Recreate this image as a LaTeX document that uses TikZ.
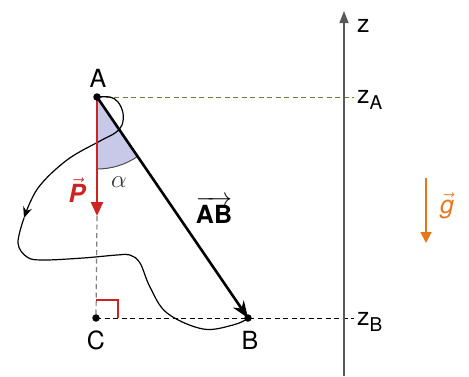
\documentclass[tikz,border=0pt]{standalone}
\usepackage{fontspec}
\setmainfont{TeX Gyre Heros}
\usetikzlibrary{arrows.meta}
\definecolor{pred}{RGB}{205,35,35}
\definecolor{gor}{RGB}{232,118,28}
\definecolor{sectorcol}{RGB}{200,200,232}
\definecolor{olivedash}{RGB}{120,120,60}
\tikzset{
  lbl/.style={inner sep=0pt, font=\fontsize{25}{28}\selectfont},
  dotpt/.style={circle, fill=black, inner sep=0pt, minimum size=7.5pt},
  hdash/.style={dashed, dash pattern=on 5pt off 3.5pt, line width=1pt},
  traj/.style={line width=1.2pt, line cap=round},
}
\begin{document}
\begin{tikzpicture}[x=1pt,y=-1pt]
\useasboundingbox (0,0) rectangle (469,376);
% points
\coordinate (A) at (97,97);
\coordinate (B) at (248,318);
\coordinate (C) at (96,318);
\coordinate (Pend) at (97,216);
% shaded sector
\fill[sectorcol] (A) -- (97,169) arc[start angle=-90, end angle=-55.65, radius=72pt] -- cycle;
\draw[line width=1pt, black!70] (97,169) arc[start angle=-90, end angle=-55.65, radius=72pt];
% dashed lines
\draw[hdash, olivedash] (A) -- (354,97);
\draw[hdash, black] (C) -- (354,318);
\draw[hdash, gray, line width=1.2pt] (Pend) -- (C);
% z axis
\coordinate (zbot) at (344,376);
\coordinate (ztop) at (344,11);
\draw[line width=1.4pt, black!65, -{Triangle[length=12pt,width=9pt]}] (zbot) -- (ztop);
\node[lbl, anchor=west] (zl) at (357,26) {z};
\node[lbl, anchor=west] (zA) at (357,100) {z\textsubscript{\fontsize{19}{21}\selectfont A}};
\node[lbl, anchor=west] (zB) at (357,322) {z\textsubscript{\fontsize{19}{21}\selectfont B}};
% right angle mark
\draw[pred, line width=1.1pt] (96,300) -- (118,300) -- (118,318);
% trajectory
\draw[traj, -{Stealth[length=11pt,width=9pt]}] plot[smooth, tension=0.6] coordinates {(97,97) (110,97) (118,102) (123,113) (122,125) (115,133) (100,141) (67,160) (38,188) (24,218)};
\coordinate (Tmid) at (24,218);
\draw[traj] plot[smooth, tension=0.6] coordinates {(24,218) (18,243) (27,257) (43,260) (83,258) (117,255) (130,255) (140,263) (150,287) (167,313) (203,329) (233,325) (247,319)};
% P vector
\draw[pred, line width=2.4pt, -{Triangle[length=14pt,width=12pt]}] (A) -- (Pend);
% AB vector
\draw[line width=2.6pt, -{Stealth[length=17pt,width=13pt]}] (A) -- (B);
% dots
\node[dotpt] (Ad) at (A) {};
\node[dotpt] (Bd) at (B) {};
\node[dotpt] (Cd) at (C) {};
% labels
\node[lbl] (Al) at (98,78) {A};
\node[lbl] (Bl) at (250,340) {B};
\node[lbl] (Cl) at (96,340) {C};
\node[lbl, text=black!80, font=\fontsize{27}{29}\selectfont] (al) at (119,182) {$\alpha$};
\node[lbl, text=pred] (Pl) at (77,190) {$\vec{\mbox{\bfseries\itshape P}}$};
\node[lbl] (ABl) at (214,210) {$\overrightarrow{\mbox{\bfseries AB}}$};
% g vector
\draw[gor, line width=1.8pt, -{Triangle[length=11pt,width=11pt]}] (426,178) -- (426,243);
\node[lbl, text=gor] (gl) at (447,206) {$\vec{\mbox{\itshape g}}$};
\end{tikzpicture}
\end{document}
